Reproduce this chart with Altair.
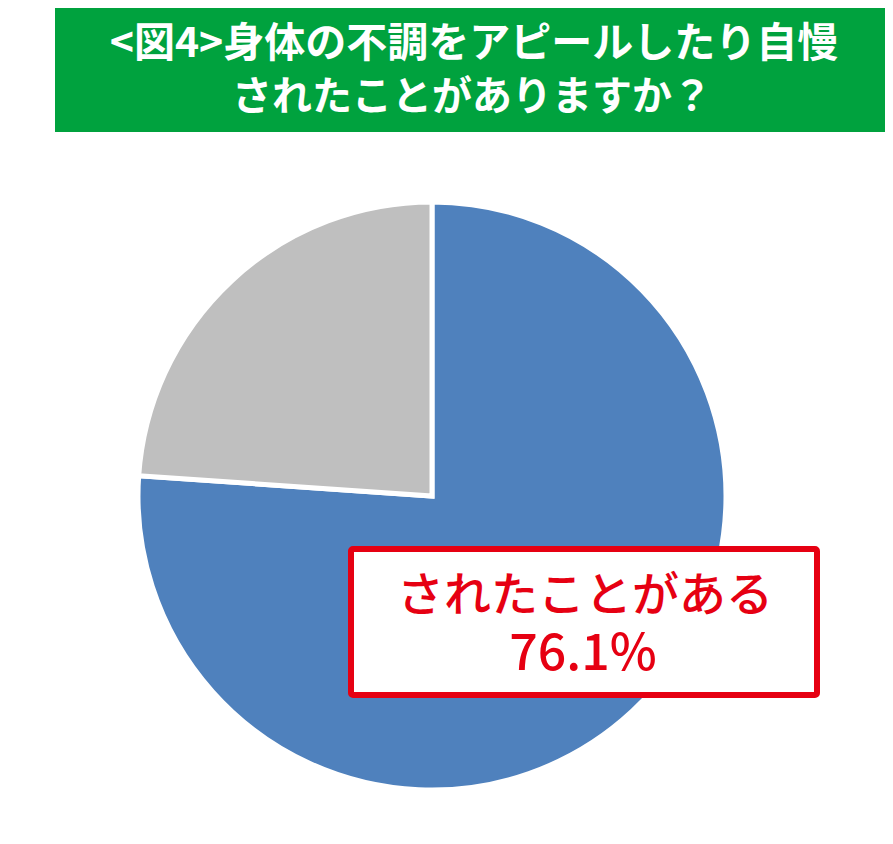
import altair as alt
import pandas as pd

# ---- data ----
categories = ["されたことがある", "されたことがない"]
values = [76.1, 23.9]
slice_order = [0, 1]
colors = ["#4F81BD", "#BFBFBF"]
title_lines = ["<図4>身体の不調をアピールしたり自慢", "されたことがありますか？"]
label_lines = ["されたことがある", "76.1%"]

df = pd.DataFrame({"category": categories, "value": values, "ord": slice_order})
one = pd.DataFrame({"k": [0]})

# page offset (body margin)
OX, OY = 8, 8
W, H = 877, 828
FONT = "Noto Sans CJK JP"
RED = "#E60012"
GREEN = "#00A23E"

pie = alt.Chart(df).mark_arc(radius=294, stroke="white", strokeWidth=5).encode(
    theta=alt.Theta("value:Q", stack=True),
    order=alt.Order("ord:Q"),
    color=alt.Color("category:N", scale=alt.Scale(domain=categories, range=colors), legend=None),
    x=alt.value(432 - OX),
    y=alt.value(496 - OY),
)

header = alt.Chart(one).mark_rect(color=GREEN).encode(
    x=alt.value(55 - OX), x2=alt.value(W),
    y=alt.value(0), y2=alt.value(132 - OY),
)

t1 = alt.Chart(pd.DataFrame({"t": [title_lines[0]]})).mark_text(
    font=FONT, fontSize=41, fontWeight="bold", color="white", baseline="middle", align="center"
).encode(text="t:N", x=alt.value(474 - OX), y=alt.value(45 - OY))

t2 = alt.Chart(pd.DataFrame({"t": [title_lines[1]]})).mark_text(
    font=FONT, fontSize=40, fontWeight="bold", color="white", baseline="middle", align="center"
).encode(text="t:N", x=alt.value(472 - OX), y=alt.value(98 - OY))

box = alt.Chart(one).mark_rect(fill="white", stroke=RED, strokeWidth=6, cornerRadius=2).encode(
    x=alt.value(351 - OX), x2=alt.value(817 - OX),
    y=alt.value(549 - OY), y2=alt.value(695 - OY),
)

l1 = alt.Chart(pd.DataFrame({"t": [label_lines[0]]})).mark_text(
    font=FONT, fontSize=47, fontWeight=500, color=RED, baseline="middle", align="center"
).encode(text="t:N", x=alt.value(585 - OX), y=alt.value(597 - OY))

l2 = alt.Chart(pd.DataFrame({"t": [label_lines[1]]})).mark_text(
    font=FONT, fontSize=50, fontWeight=500, color=RED, baseline="middle", align="center"
).encode(text="t:N", x=alt.value(583 - OX), y=alt.value(655 - OY))

chart = alt.layer(header, t1, t2, pie, box, l1, l2).properties(
    width=W, height=H, padding=0, autosize=alt.AutoSizeParams(type="none")
).configure_view(stroke=None)

chart.save("out.html", embed_options={"renderer": "svg", "actions": False})
